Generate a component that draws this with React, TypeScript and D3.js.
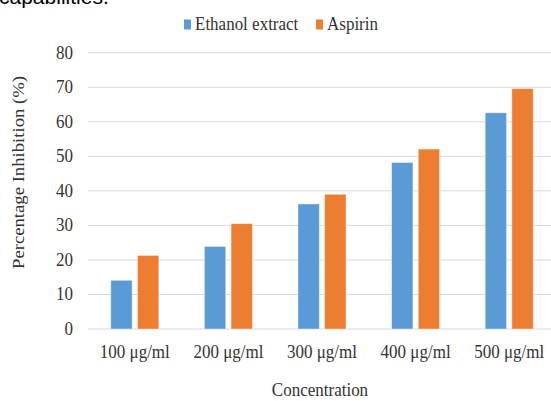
import React from "react";
import * as d3 from "d3";

const categories = ["100 μg/ml", "200 μg/ml", "300 μg/ml", "400 μg/ml", "500 μg/ml"];
const seriesNames = ["Ethanol extract", "Aspirin"];
const ethanolValues = [14.1, 23.9, 36.2, 48.2, 62.6];
const aspirinValues = [21.3, 30.5, 39.0, 52.1, 69.6];
const yTicks = [0, 10, 20, 30, 40, 50, 60, 70, 80];
const colors = ["#5b9bd5", "#ed7d31"];

const W = 551;
const H = 401;
const serif = "'Liberation Serif', 'Times New Roman', serif";
const textColor = "#333333";
const SY = 1.1;

export default function App() {
  const x0 = d3
    .scaleBand<string>()
    .domain(categories)
    .range([88, 556])
    .paddingInner(0.487)
    .paddingOuter(0.2435);
  const x1 = d3
    .scaleBand<string>()
    .domain(seriesNames)
    .range([0, x0.bandwidth()])
    .paddingInner(0.2);
  const y = d3.scaleLinear().domain([0, 80]).range([329, 52.7]);
  const data = [ethanolValues, aspirinValues];

  return (
    <svg
      width={W}
      height={H}
      style={{ position: "absolute", left: 0, top: 0, background: "#fff" }}
    >
      <rect x={0} y={0} width={W} height={H} fill="#fff" />
      <text
        x={-1}
        y={4}
        fontFamily="'Liberation Sans', Arial, sans-serif"
        fontSize={21}
        fill="#000"
      >
        capabilities.
      </text>

      {/* gridlines */}
      {yTicks.map((t) => (
        <line
          key={t}
          x1={88}
          x2={W}
          y1={y(t)}
          y2={y(t)}
          stroke="#d9d9d9"
          strokeWidth={1}
        />
      ))}

      {/* y tick labels */}
      {yTicks.map((t) => (
        <text
          key={"l" + t}
          transform={`translate(73,${y(t) + 6}) scale(1,${SY})`}
          textAnchor="end"
          fontFamily={serif}
          fontSize={17}
          fill={textColor}
        >
          {t}
        </text>
      ))}

      {/* bars */}
      {seriesNames.map((s, si) =>
        categories.map((c, ci) => {
          const v = data[si][ci];
          return (
            <rect
              key={s + c}
              x={(x0(c) ?? 0) + (x1(s) ?? 0)}
              y={y(v)}
              width={x1.bandwidth()}
              height={y(0) - y(v)}
              fill={colors[si]}
              stroke="#ffffff"
              strokeOpacity={0.5}
              strokeWidth={0.8}
            />
          );
        })
      )}

      {/* x tick labels */}
      {categories.map((c) => (
        <text
          key={"x" + c}
          transform={`translate(${(x0(c) ?? 0) + x0.bandwidth() / 2},358) scale(1,${SY})`}
          textAnchor="middle"
          fontFamily={serif}
          fontSize={17}
          fill={textColor}
        >
          {c}
        </text>
      ))}

      {/* axis titles */}
      <text
        transform={`translate(320,396) scale(1,${SY})`}
        textAnchor="middle"
        fontFamily={serif}
        fontSize={17}
        fill={textColor}
      >
        Concentration
      </text>
      <text
        transform={`translate(24,172.5) rotate(-90) scale(${SY},1)`}
        textAnchor="middle"
        fontFamily={serif}
        fontSize={17}
        fill={textColor}
      >
        Percentage Inhibition (%)
      </text>

      {/* legend */}
      {seriesNames.map((s, i) => {
        const lx = i === 0 ? 184 : 316;
        return (
          <g key={"lg" + s}>
            <rect x={lx} y={19.5} width={7} height={10} fill={colors[i]} />
            <text
              transform={`translate(${lx + 11},30) scale(1,${SY})`}
              fontFamily={serif}
              fontSize={17}
              fill={textColor}
            >
              {s}
            </text>
          </g>
        );
      })}
    </svg>
  );
}
